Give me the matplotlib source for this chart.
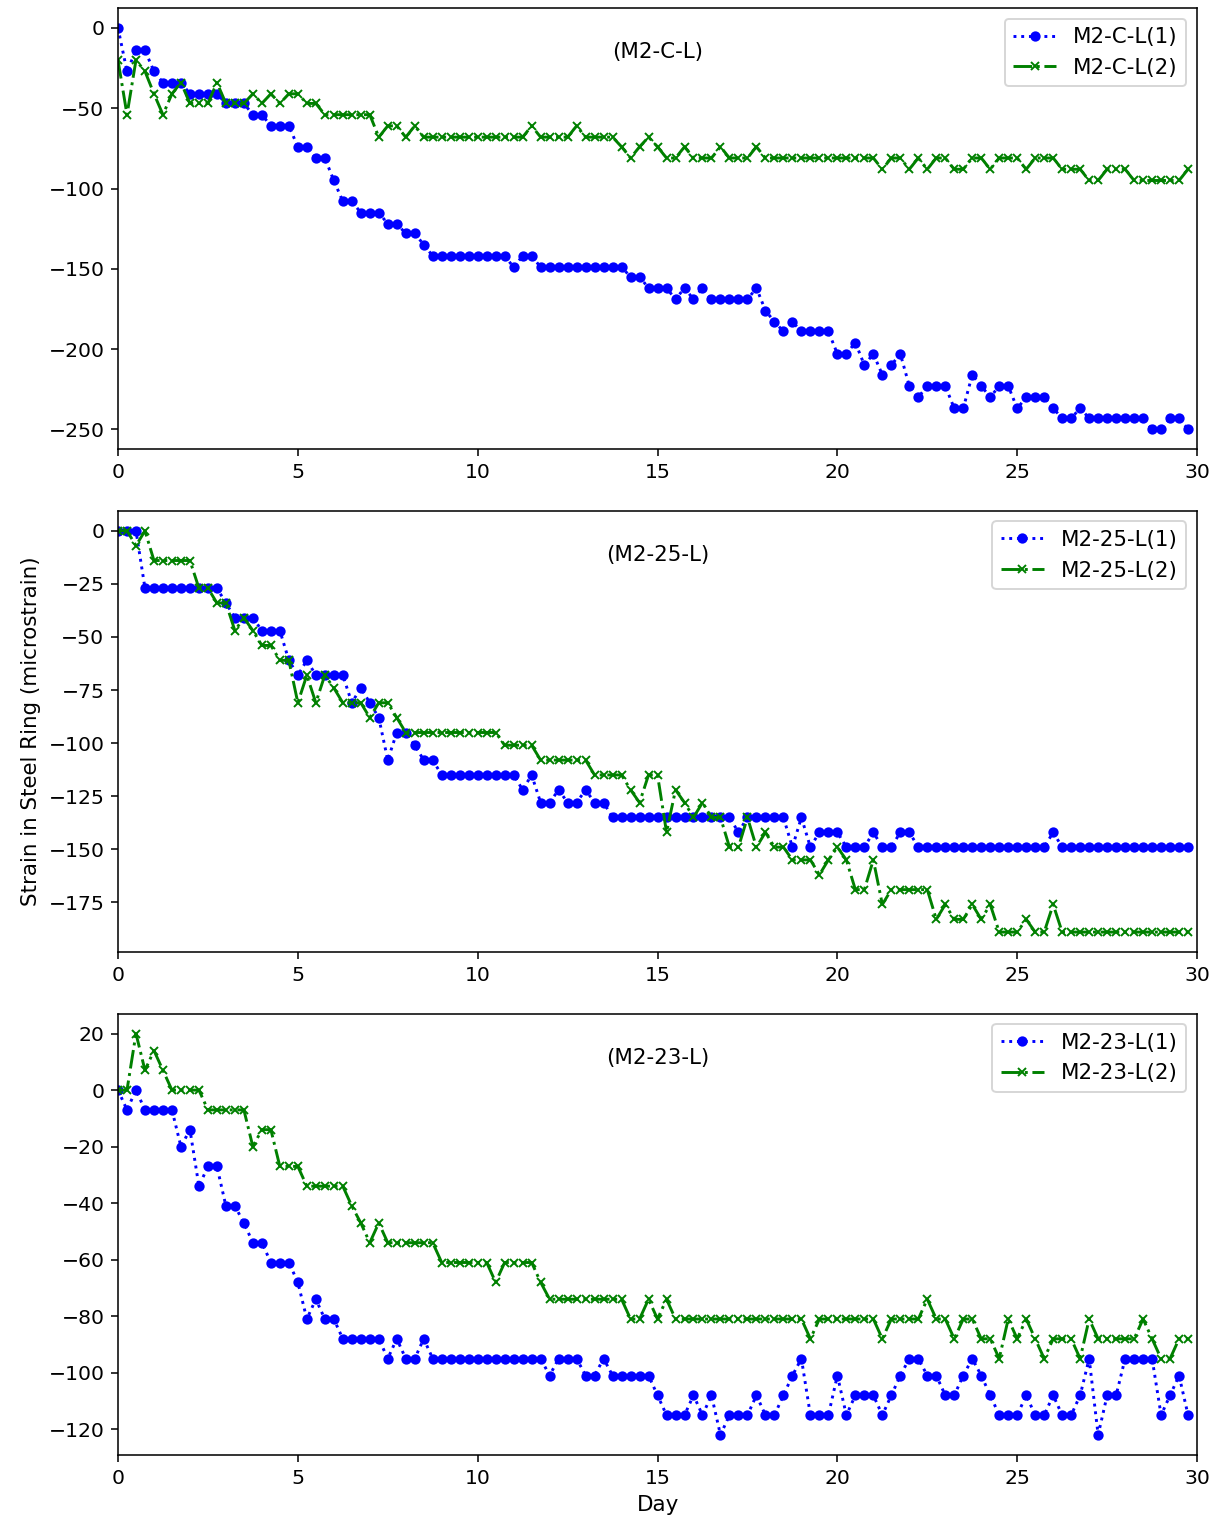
import numpy as np
import matplotlib
matplotlib.use("Agg")
import matplotlib.pyplot as plt

# readings every 6 hours over 30 days
day = np.arange(120) * 0.25

# M2-C-L
c_l_1 = [0, -27, -14, -14, -27, -34, -34, -34,
         -41, -41, -41, -41, -47, -47, -47, -54,
         -54, -61, -61, -61, -74, -74, -81, -81,
         -95, -108, -108, -115, -115, -115, -122, -122,
         -128, -128, -135, -142, -142, -142, -142, -142,
         -142, -142, -142, -142, -149, -142, -142, -149,
         -149, -149, -149, -149, -149, -149, -149, -149,
         -149, -155, -155, -162, -162, -162, -169, -162,
         -169, -162, -169, -169, -169, -169, -169, -162,
         -176, -183, -189, -183, -189, -189, -189, -189,
         -203, -203, -196, -210, -203, -216, -210, -203,
         -223, -230, -223, -223, -223, -237, -237, -216,
         -223, -230, -223, -223, -237, -230, -230, -230,
         -237, -243, -243, -237, -243, -243, -243, -243,
         -243, -243, -243, -250, -250, -243, -243, -250]
c_l_2 = [-20, -54, -20, -27, -41, -54, -41, -34,
         -47, -47, -47, -34, -47, -47, -47, -41,
         -47, -41, -47, -41, -41, -47, -47, -54,
         -54, -54, -54, -54, -54, -68, -61, -61,
         -68, -61, -68, -68, -68, -68, -68, -68,
         -68, -68, -68, -68, -68, -68, -61, -68,
         -68, -68, -68, -61, -68, -68, -68, -68,
         -74, -81, -74, -68, -74, -81, -81, -74,
         -81, -81, -81, -74, -81, -81, -81, -74,
         -81, -81, -81, -81, -81, -81, -81, -81,
         -81, -81, -81, -81, -81, -88, -81, -81,
         -88, -81, -88, -81, -81, -88, -88, -81,
         -81, -88, -81, -81, -81, -88, -81, -81,
         -81, -88, -88, -88, -95, -95, -88, -88,
         -88, -95, -95, -95, -95, -95, -95, -88]

# M2-25-L
l25_1 = [0, 0, 0, -27, -27, -27, -27, -27,
         -27, -27, -27, -27, -34, -41, -41, -41,
         -47, -47, -47, -61, -68, -61, -68, -68,
         -68, -68, -81, -74, -81, -88, -108, -95,
         -95, -101, -108, -108, -115, -115, -115, -115,
         -115, -115, -115, -115, -115, -122, -115, -128,
         -128, -122, -128, -128, -122, -128, -128, -135,
         -135, -135, -135, -135, -135, -135, -135, -135,
         -135, -135, -135, -135, -135, -142, -135, -135,
         -135, -135, -135, -149, -135, -149, -142, -142,
         -142, -149, -149, -149, -142, -149, -149, -142,
         -142, -149, -149, -149, -149, -149, -149, -149,
         -149, -149, -149, -149, -149, -149, -149, -149,
         -142, -149, -149, -149, -149, -149, -149, -149,
         -149, -149, -149, -149, -149, -149, -149, -149]
l25_2 = [0, 0, -7, 0, -14, -14, -14, -14,
         -14, -27, -27, -34, -34, -47, -41, -47,
         -54, -54, -61, -61, -81, -68, -81, -68,
         -74, -81, -81, -81, -88, -81, -81, -88,
         -95, -95, -95, -95, -95, -95, -95, -95,
         -95, -95, -95, -101, -101, -101, -101, -108,
         -108, -108, -108, -108, -108, -115, -115, -115,
         -115, -122, -128, -115, -115, -142, -122, -128,
         -135, -128, -135, -135, -149, -149, -135, -149,
         -142, -149, -149, -155, -155, -155, -162, -155,
         -149, -155, -169, -169, -155, -176, -169, -169,
         -169, -169, -169, -183, -176, -183, -183, -176,
         -183, -176, -189, -189, -189, -183, -189, -189,
         -176, -189, -189, -189, -189, -189, -189, -189,
         -189, -189, -189, -189, -189, -189, -189, -189]

# M2-23-L
l23_1 = [0, -7, 0, -7, -7, -7, -7, -20,
         -14, -34, -27, -27, -41, -41, -47, -54,
         -54, -61, -61, -61, -68, -81, -74, -81,
         -81, -88, -88, -88, -88, -88, -95, -88,
         -95, -95, -88, -95, -95, -95, -95, -95,
         -95, -95, -95, -95, -95, -95, -95, -95,
         -101, -95, -95, -95, -101, -101, -95, -101,
         -101, -101, -101, -101, -108, -115, -115, -115,
         -108, -115, -108, -122, -115, -115, -115, -108,
         -115, -115, -108, -101, -95, -115, -115, -115,
         -101, -115, -108, -108, -108, -115, -108, -101,
         -95, -95, -101, -101, -108, -108, -101, -95,
         -101, -108, -115, -115, -115, -108, -115, -115,
         -108, -115, -115, -108, -95, -122, -108, -108,
         -95, -95, -95, -95, -115, -108, -101, -115]
l23_2 = [0, 0, 20, 7, 14, 7, 0, 0,
         0, 0, -7, -7, -7, -7, -7, -20,
         -14, -14, -27, -27, -27, -34, -34, -34,
         -34, -34, -41, -47, -54, -47, -54, -54,
         -54, -54, -54, -54, -61, -61, -61, -61,
         -61, -61, -68, -61, -61, -61, -61, -68,
         -74, -74, -74, -74, -74, -74, -74, -74,
         -74, -81, -81, -74, -81, -74, -81, -81,
         -81, -81, -81, -81, -81, -81, -81, -81,
         -81, -81, -81, -81, -81, -88, -81, -81,
         -81, -81, -81, -81, -81, -88, -81, -81,
         -81, -81, -74, -81, -81, -88, -81, -81,
         -88, -88, -95, -81, -88, -81, -88, -95,
         -88, -88, -88, -95, -81, -88, -88, -88,
         -88, -88, -81, -88, -95, -95, -88, -88]

panels = [
    ("(M2-C-L)", "M2-C-L(1)", "M2-C-L(2)", c_l_1, c_l_2),
    ("(M2-25-L)", "M2-25-L(1)", "M2-25-L(2)", l25_1, l25_2),
    ("(M2-23-L)", "M2-23-L(1)", "M2-23-L(2)", l23_1, l23_2),
]

plt.rcParams['font.size'] = 11
plt.rcParams['xtick.labelsize'] = 10.5
plt.rcParams['ytick.labelsize'] = 10.5

fig, axes = plt.subplots(3, 1, figsize=(1219 / 140, 1524 / 140), dpi=140)
fig.subplots_adjust(left=0.0968, right=0.982, top=0.9948, bottom=0.0453, hspace=0.139)

for ax, (title, lab1, lab2, s1, s2) in zip(axes, panels):
    ax.plot(day, s1, 'b:', marker='o', markersize=4.3, label=lab1)
    ax.plot(day, s2, 'g-.', marker='x', markersize=3.8, label=lab2)
    ax.set_xlim(0, 30)
    ax.text(0.5, 0.9, title, transform=ax.transAxes, ha='center', va='center')
    ax.legend(loc='upper right')

axes[1].set_ylabel("Strain in Steel Ring (microstrain)")
axes[2].set_xlabel("Day")

fig.savefig("out.png", dpi=140)
